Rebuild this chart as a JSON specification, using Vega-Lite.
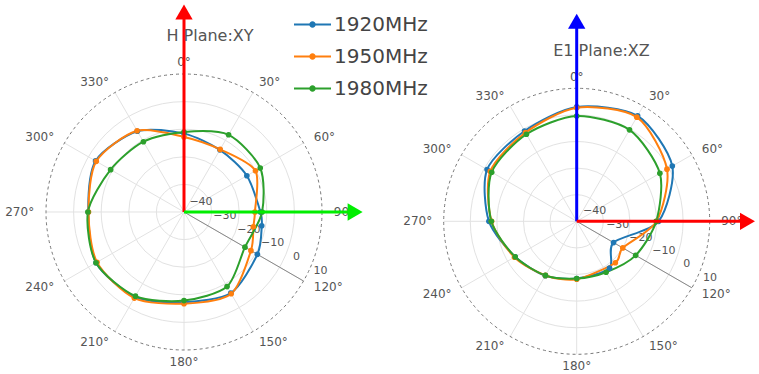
{
  "$schema": "https://vega.github.io/schema/vega-lite/v6.json",
  "padding": 0,
  "spacing": 0,
  "bounds": "flush",
  "config": {"view": {"stroke": null}, "font": "DejaVu Sans"},
  "resolve": {"scale": {"size": "independent"}},
  "datasets": {
    "h": [
      {"freq": "1920MHz", "angle": 0, "db": -11.6}, {"freq": "1920MHz", "angle": 30, "db": -14.0}, {"freq": "1920MHz", "angle": 60, "db": -13.7}, {"freq": "1920MHz", "angle": 90, "db": -12.3}, {"freq": "1920MHz", "angle": 100, "db": -11.4}, {"freq": "1920MHz", "angle": 120, "db": -9.3}, {"freq": "1920MHz", "angle": 150, "db": -6.1}, {"freq": "1920MHz", "angle": 180, "db": -7.3}, {"freq": "1920MHz", "angle": 210, "db": -4.5}, {"freq": "1920MHz", "angle": 240, "db": -3.2}, {"freq": "1920MHz", "angle": 270, "db": -5.3}, {"freq": "1920MHz", "angle": 300, "db": -3.0}, {"freq": "1920MHz", "angle": 330, "db": -6.2},
      {"freq": "1950MHz", "angle": 0, "db": -12.8}, {"freq": "1950MHz", "angle": 30, "db": -13.8}, {"freq": "1950MHz", "angle": 60, "db": -10.1}, {"freq": "1950MHz", "angle": 90, "db": -14.3}, {"freq": "1950MHz", "angle": 102, "db": -14.3}, {"freq": "1950MHz", "angle": 120, "db": -12.0}, {"freq": "1950MHz", "angle": 150, "db": -5.8}, {"freq": "1950MHz", "angle": 180, "db": -6.8}, {"freq": "1950MHz", "angle": 210, "db": -4.0}, {"freq": "1950MHz", "angle": 240, "db": -3.6}, {"freq": "1950MHz", "angle": 270, "db": -5.4}, {"freq": "1950MHz", "angle": 300, "db": -3.3}, {"freq": "1950MHz", "angle": 330, "db": -6.0},
      {"freq": "1980MHz", "angle": 0, "db": -11.0}, {"freq": "1980MHz", "angle": 30, "db": -7.7}, {"freq": "1980MHz", "angle": 60, "db": -8.1}, {"freq": "1980MHz", "angle": 90, "db": -11.7}, {"freq": "1980MHz", "angle": 120, "db": -14.5}, {"freq": "1980MHz", "angle": 150, "db": -8.8}, {"freq": "1980MHz", "angle": 180, "db": -7.9}, {"freq": "1980MHz", "angle": 210, "db": -4.8}, {"freq": "1980MHz", "angle": 240, "db": -3.2}, {"freq": "1980MHz", "angle": 270, "db": -5.2}, {"freq": "1980MHz", "angle": 300, "db": -9.3}, {"freq": "1980MHz", "angle": 330, "db": -10.6}
    ],
    "e": [
      {"freq": "1920MHz", "angle": 0, "db": 3.0}, {"freq": "1920MHz", "angle": 30, "db": 5.8}, {"freq": "1920MHz", "angle": 60, "db": 1.5}, {"freq": "1920MHz", "angle": 90, "db": -9.2}, {"freq": "1920MHz", "angle": 120, "db": -24.0}, {"freq": "1920MHz", "angle": 145, "db": -18.5}, {"freq": "1920MHz", "angle": 180, "db": -18.5}, {"freq": "1920MHz", "angle": 210, "db": -16.4}, {"freq": "1920MHz", "angle": 240, "db": -13.3}, {"freq": "1920MHz", "angle": 270, "db": -7.0}, {"freq": "1920MHz", "angle": 300, "db": -1.1}, {"freq": "1920MHz", "angle": 330, "db": -0.8},
      {"freq": "1950MHz", "angle": 0, "db": 2.7}, {"freq": "1950MHz", "angle": 30, "db": 5.2}, {"freq": "1950MHz", "angle": 60, "db": -0.8}, {"freq": "1950MHz", "angle": 90, "db": -10.0}, {"freq": "1950MHz", "angle": 120, "db": -20.0}, {"freq": "1950MHz", "angle": 137, "db": -18.7}, {"freq": "1950MHz", "angle": 180, "db": -18.2}, {"freq": "1950MHz", "angle": 210, "db": -16.5}, {"freq": "1950MHz", "angle": 240, "db": -13.0}, {"freq": "1950MHz", "angle": 270, "db": -8.0}, {"freq": "1950MHz", "angle": 300, "db": -2.5}, {"freq": "1950MHz", "angle": 330, "db": -1.5},
      {"freq": "1980MHz", "angle": 0, "db": -0.4}, {"freq": "1980MHz", "angle": 30, "db": -0.3}, {"freq": "1980MHz", "angle": 60, "db": -3.9}, {"freq": "1980MHz", "angle": 90, "db": -10.1}, {"freq": "1980MHz", "angle": 120, "db": -14.4}, {"freq": "1980MHz", "angle": 150, "db": -17.9}, {"freq": "1980MHz", "angle": 180, "db": -18.5}, {"freq": "1980MHz", "angle": 210, "db": -16.5}, {"freq": "1980MHz", "angle": 240, "db": -13.3}, {"freq": "1980MHz", "angle": 270, "db": -7.9}, {"freq": "1980MHz", "angle": 300, "db": -3.1}, {"freq": "1980MHz", "angle": 330, "db": -2.2}
    ],
    "spokes": [{"angle": 0}, {"angle": 30}, {"angle": 60}, {"angle": 90}, {"angle": 120}, {"angle": 150}, {"angle": 180}, {"angle": 210}, {"angle": 240}, {"angle": 270}, {"angle": 300}, {"angle": 330}],
    "anglabels": [{"angle": 0, "label": "0°"}, {"angle": 30, "label": "30°"}, {"angle": 60, "label": "60°"}, {"angle": 90, "label": "90°"}, {"angle": 120, "label": "120°"}, {"angle": 150, "label": "150°"}, {"angle": 180, "label": "180°"}, {"angle": 210, "label": "210°"}, {"angle": 240, "label": "240°"}, {"angle": 270, "label": "270°"}, {"angle": 300, "label": "300°"}, {"angle": 330, "label": "330°"}],
    "rings": [{"db": -30}, {"db": -20}, {"db": -10}, {"db": 0}],
    "outer": [{"db": 10}],
    "radlabels": [{"v": -40, "label": "−40"}, {"v": -30, "label": "−30"}, {"v": -20, "label": "−20"}, {"v": -10, "label": "−10"}, {"v": 0, "label": "0"}, {"v": 10, "label": "10"}]
  },
  "hconcat": [
    {
      "width": 380,
      "height": 374,
      "title": {"text": "H Plane:XY", "orient": "top", "anchor": "middle", "frame": "group", "offset": 0, "baseline": "middle", "dx": 20, "dy": 52, "fontSize": 16, "fontWeight": "normal", "color": "#555", "font": "DejaVu Sans"},
      "layer": [
        {
          "data": {"name": "spokes"},
          "transform": [{"calculate": "50*sin(datum.angle*PI/180)", "as": "ex"}, {"calculate": "50*cos(datum.angle*PI/180)", "as": "ey"}],
          "mark": {"type": "rule", "color": "#e2e2e2", "strokeWidth": 1},
          "encoding": {
            "x": {"field": "ex", "type": "quantitative", "scale": {"domain": [-66.667, 71.014], "nice": false, "zero": false}, "axis": null},
            "y": {"field": "ey", "type": "quantitative", "scale": {"domain": [-58.696, 76.812], "nice": false, "zero": false}, "axis": null},
            "x2": {"datum": 0},
            "y2": {"datum": 0}
          }
        },
        {
          "data": {"name": "rings"},
          "transform": [{"calculate": "datum.db+40", "as": "r"}, {"calculate": "0", "as": "c"}],
          "mark": {"type": "point", "shape": "circle", "filled": false, "color": "#e2e2e2", "strokeWidth": 1, "opacity": 1},
          "encoding": {
            "x": {"field": "c", "type": "quantitative", "scale": {"domain": [-66.667, 71.014], "nice": false, "zero": false}, "axis": null},
            "y": {"field": "c", "type": "quantitative", "scale": {"domain": [-58.696, 76.812], "nice": false, "zero": false}, "axis": null},
            "size": {"field": "r", "type": "quantitative", "scale": {"type": "pow", "exponent": 2, "domain": [0, 50], "range": [0, 76176]}, "legend": null}
          }
        },
        {
          "data": {"name": "outer"},
          "transform": [{"calculate": "datum.db+40", "as": "r"}, {"calculate": "0", "as": "c"}],
          "mark": {"type": "point", "shape": "circle", "filled": false, "color": "#777", "strokeWidth": 1, "strokeDash": [3, 3], "opacity": 1},
          "encoding": {
            "x": {"field": "c", "type": "quantitative", "scale": {"domain": [-66.667, 71.014], "nice": false, "zero": false}, "axis": null},
            "y": {"field": "c", "type": "quantitative", "scale": {"domain": [-58.696, 76.812], "nice": false, "zero": false}, "axis": null},
            "size": {"field": "r", "type": "quantitative", "scale": {"type": "pow", "exponent": 2, "domain": [0, 50], "range": [0, 76176]}, "legend": null}
          }
        },
        {
          "data": {"values": [{"angle": 120}]},
          "transform": [{"calculate": "50*sin(datum.angle*PI/180)", "as": "ex"}, {"calculate": "50*cos(datum.angle*PI/180)", "as": "ey"}],
          "mark": {"type": "rule", "color": "#888", "strokeWidth": 1},
          "encoding": {
            "x": {"field": "ex", "type": "quantitative", "scale": {"domain": [-66.667, 71.014], "nice": false, "zero": false}, "axis": null},
            "y": {"field": "ey", "type": "quantitative", "scale": {"domain": [-58.696, 76.812], "nice": false, "zero": false}, "axis": null},
            "x2": {"datum": 0},
            "y2": {"datum": 0}
          }
        },
        {
          "data": {"name": "radlabels"},
          "transform": [{"calculate": "(datum.v+40)*sin(120*PI/180)", "as": "x"}, {"calculate": "(datum.v+40)*cos(120*PI/180)", "as": "y"}],
          "mark": {"type": "text", "fontSize": 11, "color": "#555", "align": "center", "baseline": "middle", "dx": 17, "dy": -10},
          "encoding": {
            "x": {"field": "x", "type": "quantitative", "scale": {"domain": [-66.667, 71.014], "nice": false, "zero": false}, "axis": null},
            "y": {"field": "y", "type": "quantitative", "scale": {"domain": [-58.696, 76.812], "nice": false, "zero": false}, "axis": null},
            "text": {"field": "label"}
          }
        },
        {
          "data": {"name": "anglabels"},
          "transform": [{"calculate": "54.3*sin(datum.angle*PI/180)", "as": "x"}, {"calculate": "54.3*cos(datum.angle*PI/180)", "as": "y"}],
          "layer": [
            {
              "transform": [{"filter": "datum.angle > 0 && datum.angle < 180"}],
              "mark": {"type": "text", "fontSize": 12, "color": "#555", "align": "left", "baseline": "middle"},
              "encoding": {
                "x": {"field": "x", "type": "quantitative", "scale": {"domain": [-66.667, 71.014], "nice": false, "zero": false}, "axis": null},
                "y": {"field": "y", "type": "quantitative", "scale": {"domain": [-58.696, 76.812], "nice": false, "zero": false}, "axis": null},
                "text": {"field": "label"}
              }
            },
            {
              "transform": [{"filter": "datum.angle > 180"}],
              "mark": {"type": "text", "fontSize": 12, "color": "#555", "align": "right", "baseline": "middle"},
              "encoding": {
                "x": {"field": "x", "type": "quantitative", "scale": {"domain": [-66.667, 71.014], "nice": false, "zero": false}, "axis": null},
                "y": {"field": "y", "type": "quantitative", "scale": {"domain": [-58.696, 76.812], "nice": false, "zero": false}, "axis": null},
                "text": {"field": "label"}
              }
            },
            {
              "transform": [{"filter": "datum.angle == 0 || datum.angle == 180"}],
              "mark": {"type": "text", "fontSize": 12, "color": "#555", "align": "center", "baseline": "middle"},
              "encoding": {
                "x": {"field": "x", "type": "quantitative", "scale": {"domain": [-66.667, 71.014], "nice": false, "zero": false}, "axis": null},
                "y": {"field": "y", "type": "quantitative", "scale": {"domain": [-58.696, 76.812], "nice": false, "zero": false}, "axis": null},
                "text": {"field": "label"}
              }
            }
          ]
        },
        {
          "data": {"name": "h"},
          "transform": [{"calculate": "(datum.db+40)*sin(datum.angle*PI/180)", "as": "x"}, {"calculate": "(datum.db+40)*cos(datum.angle*PI/180)", "as": "y"}],
          "layer": [
            {
              "mark": {"type": "line", "interpolate": "cardinal-closed", "tension": 0.2, "strokeWidth": 2},
              "encoding": {
                "x": {"field": "x", "type": "quantitative", "scale": {"domain": [-66.667, 71.014], "nice": false, "zero": false}, "axis": null},
                "y": {"field": "y", "type": "quantitative", "scale": {"domain": [-58.696, 76.812], "nice": false, "zero": false}, "axis": null},
                "order": {"field": "angle", "type": "quantitative"},
                "color": {
                  "field": "freq", "type": "nominal",
                  "scale": {"domain": ["1920MHz", "1950MHz", "1980MHz"], "range": ["#1f77b4", "#ff7f0e", "#2ca02c"]},
                  "legend": {"orient": "none", "legendX": 293, "legendY": 5, "title": null, "symbolType": "M-1,0H1M-0.12,0A0.12,0.12,0,1,0,0.12,0A0.12,0.12,0,1,0,-0.12,0M-0.05,0A0.05,0.05,0,1,0,0.05,0A0.05,0.05,0,1,0,-0.05,0", "symbolSize": 1369, "symbolStrokeWidth": 2, "labelFontSize": 20, "labelColor": "#444", "labelFont": "DejaVu Sans", "rowPadding": 2, "labelOffset": 2}
                }
              }
            },
            {
              "mark": {"type": "point", "filled": true, "size": 32, "opacity": 1},
              "encoding": {
                "x": {"field": "x", "type": "quantitative", "scale": {"domain": [-66.667, 71.014], "nice": false, "zero": false}, "axis": null},
                "y": {"field": "y", "type": "quantitative", "scale": {"domain": [-58.696, 76.812], "nice": false, "zero": false}, "axis": null},
                "color": {"field": "freq", "type": "nominal", "legend": null}
              }
            }
          ]
        },
        {
          "data": {"values": [{"angle": 0, "len": 72.5}]},
          "transform": [{"calculate": "datum.len*sin(datum.angle*PI/180)", "as": "ex"}, {"calculate": "datum.len*cos(datum.angle*PI/180)", "as": "ey"}],
          "layer": [
            {
              "mark": {"type": "rule", "color": "#ff0000", "strokeWidth": 3},
              "encoding": {
                "x": {"field": "ex", "type": "quantitative", "scale": {"domain": [-66.667, 71.014], "nice": false, "zero": false}, "axis": null},
                "y": {"field": "ey", "type": "quantitative", "scale": {"domain": [-58.696, 76.812], "nice": false, "zero": false}, "axis": null},
                "x2": {"datum": 0},
                "y2": {"datum": 0}
              }
            },
            {
              "mark": {"type": "point", "shape": "triangle-up", "filled": true, "color": "#ff0000", "size": 300, "opacity": 1},
              "encoding": {
                "x": {"field": "ex", "type": "quantitative", "scale": {"domain": [-66.667, 71.014], "nice": false, "zero": false}, "axis": null},
                "y": {"field": "ey", "type": "quantitative", "scale": {"domain": [-58.696, 76.812], "nice": false, "zero": false}, "axis": null}
              }
            }
          ]
        },
        {
          "data": {"values": [{"angle": 90, "len": 62}]},
          "transform": [{"calculate": "datum.len*sin(datum.angle*PI/180)", "as": "ex"}, {"calculate": "datum.len*cos(datum.angle*PI/180)", "as": "ey"}],
          "layer": [
            {
              "mark": {"type": "rule", "color": "#00ee00", "strokeWidth": 3},
              "encoding": {
                "x": {"field": "ex", "type": "quantitative", "scale": {"domain": [-66.667, 71.014], "nice": false, "zero": false}, "axis": null},
                "y": {"field": "ey", "type": "quantitative", "scale": {"domain": [-58.696, 76.812], "nice": false, "zero": false}, "axis": null},
                "x2": {"datum": 0},
                "y2": {"datum": 0}
              }
            },
            {
              "mark": {"type": "point", "shape": "triangle-right", "filled": true, "color": "#00ee00", "size": 300, "opacity": 1},
              "encoding": {
                "x": {"field": "ex", "type": "quantitative", "scale": {"domain": [-66.667, 71.014], "nice": false, "zero": false}, "axis": null},
                "y": {"field": "ey", "type": "quantitative", "scale": {"domain": [-58.696, 76.812], "nice": false, "zero": false}, "axis": null}
              }
            }
          ]
        }
      ]
    },
    {
      "width": 379,
      "height": 374,
      "title": {"text": "E1 Plane:XZ", "orient": "top", "anchor": "middle", "frame": "group", "offset": 0, "baseline": "middle", "dx": 32, "dy": 67, "fontSize": 16, "fontWeight": "normal", "color": "#555", "font": "DejaVu Sans"},
      "layer": [
        {
          "data": {"name": "spokes"},
          "transform": [{"calculate": "50*sin(datum.angle*PI/180)", "as": "ex"}, {"calculate": "50*cos(datum.angle*PI/180)", "as": "ey"}],
          "mark": {"type": "rule", "color": "#e2e2e2", "strokeWidth": 1},
          "encoding": {
            "x": {"field": "ex", "type": "quantitative", "scale": {"domain": [-73.947, 68.534], "nice": false, "zero": false}, "axis": null},
            "y": {"field": "ey", "type": "quantitative", "scale": {"domain": [-57.406, 83.195], "nice": false, "zero": false}, "axis": null},
            "x2": {"datum": 0},
            "y2": {"datum": 0}
          }
        },
        {
          "data": {"name": "rings"},
          "transform": [{"calculate": "datum.db+40", "as": "r"}, {"calculate": "0", "as": "c"}],
          "mark": {"type": "point", "shape": "circle", "filled": false, "color": "#e2e2e2", "strokeWidth": 1, "opacity": 1},
          "encoding": {
            "x": {"field": "c", "type": "quantitative", "scale": {"domain": [-73.947, 68.534], "nice": false, "zero": false}, "axis": null},
            "y": {"field": "c", "type": "quantitative", "scale": {"domain": [-57.406, 83.195], "nice": false, "zero": false}, "axis": null},
            "size": {"field": "r", "type": "quantitative", "scale": {"type": "pow", "exponent": 2, "domain": [0, 50], "range": [0, 70756]}, "legend": null}
          }
        },
        {
          "data": {"name": "outer"},
          "transform": [{"calculate": "datum.db+40", "as": "r"}, {"calculate": "0", "as": "c"}],
          "mark": {"type": "point", "shape": "circle", "filled": false, "color": "#777", "strokeWidth": 1, "strokeDash": [3, 3], "opacity": 1},
          "encoding": {
            "x": {"field": "c", "type": "quantitative", "scale": {"domain": [-73.947, 68.534], "nice": false, "zero": false}, "axis": null},
            "y": {"field": "c", "type": "quantitative", "scale": {"domain": [-57.406, 83.195], "nice": false, "zero": false}, "axis": null},
            "size": {"field": "r", "type": "quantitative", "scale": {"type": "pow", "exponent": 2, "domain": [0, 50], "range": [0, 70756]}, "legend": null}
          }
        },
        {
          "data": {"values": [{"angle": 120}]},
          "transform": [{"calculate": "50*sin(datum.angle*PI/180)", "as": "ex"}, {"calculate": "50*cos(datum.angle*PI/180)", "as": "ey"}],
          "mark": {"type": "rule", "color": "#888", "strokeWidth": 1},
          "encoding": {
            "x": {"field": "ex", "type": "quantitative", "scale": {"domain": [-73.947, 68.534], "nice": false, "zero": false}, "axis": null},
            "y": {"field": "ey", "type": "quantitative", "scale": {"domain": [-57.406, 83.195], "nice": false, "zero": false}, "axis": null},
            "x2": {"datum": 0},
            "y2": {"datum": 0}
          }
        },
        {
          "data": {"name": "radlabels"},
          "transform": [{"calculate": "(datum.v+40)*sin(120*PI/180)", "as": "x"}, {"calculate": "(datum.v+40)*cos(120*PI/180)", "as": "y"}],
          "mark": {"type": "text", "fontSize": 11, "color": "#555", "align": "center", "baseline": "middle", "dx": 18, "dy": -10},
          "encoding": {
            "x": {"field": "x", "type": "quantitative", "scale": {"domain": [-73.947, 68.534], "nice": false, "zero": false}, "axis": null},
            "y": {"field": "y", "type": "quantitative", "scale": {"domain": [-57.406, 83.195], "nice": false, "zero": false}, "axis": null},
            "text": {"field": "label"}
          }
        },
        {
          "data": {"name": "anglabels"},
          "transform": [{"calculate": "54.3*sin(datum.angle*PI/180)", "as": "x"}, {"calculate": "54.3*cos(datum.angle*PI/180)", "as": "y"}],
          "layer": [
            {
              "transform": [{"filter": "datum.angle > 0 && datum.angle < 180"}],
              "mark": {"type": "text", "fontSize": 12, "color": "#555", "align": "left", "baseline": "middle"},
              "encoding": {
                "x": {"field": "x", "type": "quantitative", "scale": {"domain": [-73.947, 68.534], "nice": false, "zero": false}, "axis": null},
                "y": {"field": "y", "type": "quantitative", "scale": {"domain": [-57.406, 83.195], "nice": false, "zero": false}, "axis": null},
                "text": {"field": "label"}
              }
            },
            {
              "transform": [{"filter": "datum.angle > 180"}],
              "mark": {"type": "text", "fontSize": 12, "color": "#555", "align": "right", "baseline": "middle"},
              "encoding": {
                "x": {"field": "x", "type": "quantitative", "scale": {"domain": [-73.947, 68.534], "nice": false, "zero": false}, "axis": null},
                "y": {"field": "y", "type": "quantitative", "scale": {"domain": [-57.406, 83.195], "nice": false, "zero": false}, "axis": null},
                "text": {"field": "label"}
              }
            },
            {
              "transform": [{"filter": "datum.angle == 0 || datum.angle == 180"}],
              "mark": {"type": "text", "fontSize": 12, "color": "#555", "align": "center", "baseline": "middle"},
              "encoding": {
                "x": {"field": "x", "type": "quantitative", "scale": {"domain": [-73.947, 68.534], "nice": false, "zero": false}, "axis": null},
                "y": {"field": "y", "type": "quantitative", "scale": {"domain": [-57.406, 83.195], "nice": false, "zero": false}, "axis": null},
                "text": {"field": "label"}
              }
            }
          ]
        },
        {
          "data": {"name": "e"},
          "transform": [{"calculate": "(datum.db+40)*sin(datum.angle*PI/180)", "as": "x"}, {"calculate": "(datum.db+40)*cos(datum.angle*PI/180)", "as": "y"}],
          "layer": [
            {
              "mark": {"type": "line", "interpolate": "cardinal-closed", "tension": 0.2, "strokeWidth": 2},
              "encoding": {
                "x": {"field": "x", "type": "quantitative", "scale": {"domain": [-73.947, 68.534], "nice": false, "zero": false}, "axis": null},
                "y": {"field": "y", "type": "quantitative", "scale": {"domain": [-57.406, 83.195], "nice": false, "zero": false}, "axis": null},
                "order": {"field": "angle", "type": "quantitative"},
                "color": {"field": "freq", "type": "nominal", "legend": null}
              }
            },
            {
              "mark": {"type": "point", "filled": true, "size": 32, "opacity": 1},
              "encoding": {
                "x": {"field": "x", "type": "quantitative", "scale": {"domain": [-73.947, 68.534], "nice": false, "zero": false}, "axis": null},
                "y": {"field": "y", "type": "quantitative", "scale": {"domain": [-57.406, 83.195], "nice": false, "zero": false}, "axis": null},
                "color": {"field": "freq", "type": "nominal", "legend": null}
              }
            }
          ]
        },
        {
          "data": {"values": [{"angle": 0, "len": 75.2}]},
          "transform": [{"calculate": "datum.len*sin(datum.angle*PI/180)", "as": "ex"}, {"calculate": "datum.len*cos(datum.angle*PI/180)", "as": "ey"}],
          "layer": [
            {
              "mark": {"type": "rule", "color": "#0000ff", "strokeWidth": 3},
              "encoding": {
                "x": {"field": "ex", "type": "quantitative", "scale": {"domain": [-73.947, 68.534], "nice": false, "zero": false}, "axis": null},
                "y": {"field": "ey", "type": "quantitative", "scale": {"domain": [-57.406, 83.195], "nice": false, "zero": false}, "axis": null},
                "x2": {"datum": 0},
                "y2": {"datum": 0}
              }
            },
            {
              "mark": {"type": "point", "shape": "triangle-up", "filled": true, "color": "#0000ff", "size": 300, "opacity": 1},
              "encoding": {
                "x": {"field": "ex", "type": "quantitative", "scale": {"domain": [-73.947, 68.534], "nice": false, "zero": false}, "axis": null},
                "y": {"field": "ey", "type": "quantitative", "scale": {"domain": [-57.406, 83.195], "nice": false, "zero": false}, "axis": null}
              }
            }
          ]
        },
        {
          "data": {"values": [{"angle": 90, "len": 64.2}]},
          "transform": [{"calculate": "datum.len*sin(datum.angle*PI/180)", "as": "ex"}, {"calculate": "datum.len*cos(datum.angle*PI/180)", "as": "ey"}],
          "layer": [
            {
              "mark": {"type": "rule", "color": "#ff0000", "strokeWidth": 3},
              "encoding": {
                "x": {"field": "ex", "type": "quantitative", "scale": {"domain": [-73.947, 68.534], "nice": false, "zero": false}, "axis": null},
                "y": {"field": "ey", "type": "quantitative", "scale": {"domain": [-57.406, 83.195], "nice": false, "zero": false}, "axis": null},
                "x2": {"datum": 0},
                "y2": {"datum": 0}
              }
            },
            {
              "mark": {"type": "point", "shape": "triangle-right", "filled": true, "color": "#ff0000", "size": 300, "opacity": 1},
              "encoding": {
                "x": {"field": "ex", "type": "quantitative", "scale": {"domain": [-73.947, 68.534], "nice": false, "zero": false}, "axis": null},
                "y": {"field": "ey", "type": "quantitative", "scale": {"domain": [-57.406, 83.195], "nice": false, "zero": false}, "axis": null}
              }
            }
          ]
        }
      ]
    }
  ]
}
